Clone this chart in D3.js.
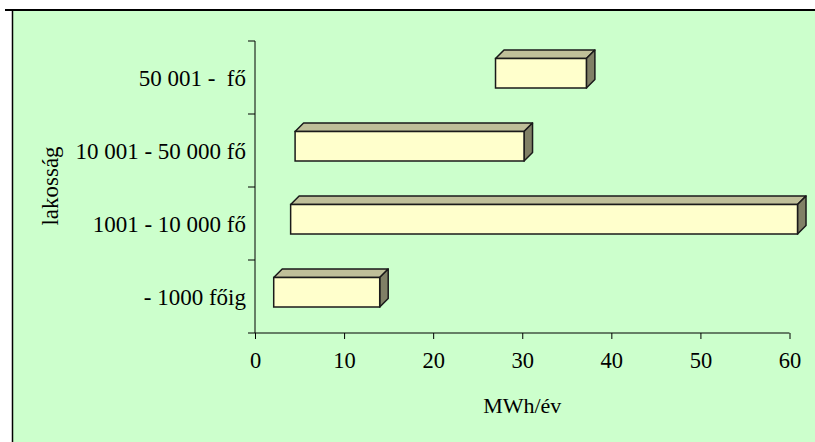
<!DOCTYPE html>
<html><head><meta charset="utf-8">
<script src="https://cdn.jsdelivr.net/npm/d3@7"></script>
<style>
html,body{margin:0;padding:0;background:#fff;}
svg{display:block;}
text{font-family:"Liberation Serif","Times New Roman",serif;fill:#000;}
</style></head>
<body>
<svg id="chart" width="815" height="442"></svg>
<script>
const categories = ["- 1000 főig", "1001 - 10 000 fő", "10 001 - 50 000 fő", "50 001 -  fő"];
const startValues = [2.1, 4.0, 4.5, 27.0];
const endValues = [14.0, 60.9, 30.2, 37.2];
const xTicks = [0, 10, 20, 30, 40, 50, 60];
const xTitle = "MWh/év";
const yTitle = "lakosság";

const data = categories.map((c, i) => ({cat: c, s: startValues[i], e: endValues[i]}));

const svg = d3.select("#chart");
svg.append("rect").attr("x", 13).attr("y", 11).attr("width", 802).attr("height", 431).attr("fill", "#CCFFCC");
svg.append("line").attr("x1", 5).attr("x2", 815).attr("y1", 10).attr("y2", 10).attr("stroke", "#000").attr("stroke-width", 2);
svg.append("line").attr("x1", 12.5).attr("x2", 12.5).attr("y1", 10).attr("y2", 442).attr("stroke", "#000").attr("stroke-width", 1.5);

const x = d3.scaleLinear().domain([0, 60]).range([255, 789.5]);
const y = d3.scaleBand().domain(categories).range([333, 41]).padding(0);
const step = y.step();
const depth = 8.5;
const frontUp = 19, frontH = 29.5;

svg.append("line").attr("x1", 255).attr("x2", 255).attr("y1", 41).attr("y2", 333).attr("stroke", "#000").attr("stroke-width", 1);
const bounds = categories.map(c => y(c)).concat([y(categories[0]) + step]);
svg.selectAll(".ytick").data(bounds).enter().append("line")
  .attr("x1", 248).attr("x2", 255).attr("y1", d => d).attr("y2", d => d)
  .attr("stroke", "#000").attr("stroke-width", 1);
svg.selectAll(".ylab").data(categories).enter().append("text")
  .attr("x", 246).attr("y", d => y(d) + step / 2 + 8.5)
  .attr("text-anchor", "end").attr("font-size", 23)
  .style("white-space", "pre").text(d => d);

const xAxis = d3.axisBottom(x).tickValues(xTicks).tickSize(6).tickPadding(10);
const gx = svg.append("g").attr("transform", "translate(0,333)").call(xAxis);
gx.select(".domain").attr("d", "M" + x(0) + ",0H" + x(60)).attr("stroke", "#000");
gx.selectAll(".tick line").attr("stroke", "#000");
gx.selectAll(".tick text").attr("font-size", 22.5).attr("font-family", "Liberation Serif").attr("fill", "#000").attr("dy", "0.85em");
gx.attr("font-family", null).attr("font-size", null);

svg.append("text").attr("x", (x(0) + x(60)) / 2).attr("y", 413).attr("text-anchor", "middle").attr("font-size", 22).text(xTitle);
svg.append("text").attr("transform", "translate(58,186) rotate(-90)").attr("text-anchor", "middle").attr("font-size", 23).text(yTitle);

const bars = svg.selectAll(".bar").data(data).enter().append("g");
bars.each(function(d) {
  const g = d3.select(this);
  const x0 = x(d.s), x1 = x(d.e);
  const yt = y(d.cat) + step / 2 - frontUp, yb = yt + frontH;
  g.append("path").attr("d", `M${x0},${yt}L${x0 + depth},${yt - depth}L${x1 + depth},${yt - depth}L${x1},${yt}Z`)
    .attr("fill", "#BFBF99").attr("stroke", "#1a1a1a").attr("stroke-width", 1.5).attr("stroke-linejoin", "round");
  g.append("path").attr("d", `M${x1},${yt}L${x1 + depth},${yt - depth}L${x1 + depth},${yb - depth}L${x1},${yb}Z`)
    .attr("fill", "#808066").attr("stroke", "#1a1a1a").attr("stroke-width", 1.5).attr("stroke-linejoin", "round");
  g.append("rect").attr("x", x0).attr("y", yt).attr("width", x1 - x0).attr("height", frontH)
    .attr("fill", "#FFFFCC").attr("stroke", "#1a1a1a").attr("stroke-width", 1.5);
});
</script>
</body></html>
